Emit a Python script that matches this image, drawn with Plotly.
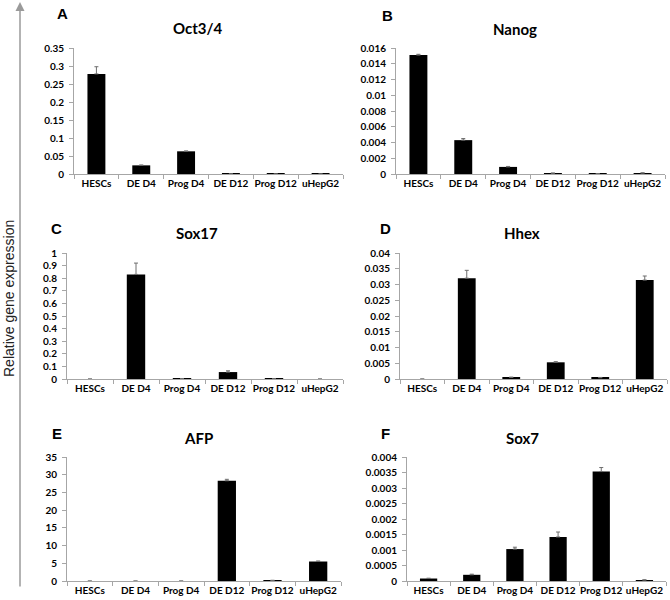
import plotly.graph_objects as go

categories = ["HESCs", "DE D4", "Prog D4", "DE D12", "Prog D12", "uHepG2"]

oct4_vals = [0.278, 0.024, 0.063, 0.0004, 0.0002, 0.0002]
oct4_err = [0.020, 0.001, 0.001, 0.0, 0.0, 0.0]

nanog_vals = [0.0151, 0.0043, 0.0009, 0.0001, 0.00003, 0.00012]
nanog_err = [0.0001, 0.0002, 0.00006, 0.00002, 0.00002, 0.00003]

sox17_vals = [0.0, 0.83, 0.003, 0.055, 0.002, 0.0]
sox17_err = [0.0, 0.09, 0.001, 0.01, 0.001, 0.0]

hhex_vals = [0.0, 0.032, 0.0005, 0.0053, 0.0004, 0.0314]
hhex_err = [0.0, 0.0025, 0.0001, 0.0002, 0.0001, 0.0013]

afp_vals = [0.0, 0.0, 0.0, 28.3, 0.15, 5.5]
afp_err = [0.0, 0.0, 0.0, 0.4, 0.05, 0.15]

sox7_vals = [0.00008, 0.0002, 0.00103, 0.00142, 0.00353, 0.00003]
sox7_err = [0.00001, 0.00002, 0.00006, 0.00016, 0.00013, 0.00001]

panels = [
    ("A", "Oct3/4", oct4_vals, oct4_err, [0, 0.35], 0.05, ["0", "0.05", "0.1", "0.15", "0.2", "0.25", "0.3", "0.35"]),
    ("B", "Nanog", nanog_vals, nanog_err, [0, 0.016], 0.002, ["0", "0.002", "0.004", "0.006", "0.008", "0.01", "0.012", "0.014", "0.016"]),
    ("C", "Sox17", sox17_vals, sox17_err, [0, 1], 0.1, ["0", "0.1", "0.2", "0.3", "0.4", "0.5", "0.6", "0.7", "0.8", "0.9", "1"]),
    ("D", "Hhex", hhex_vals, hhex_err, [0, 0.04], 0.005, ["0", "0.005", "0.01", "0.015", "0.02", "0.025", "0.03", "0.035", "0.04"]),
    ("E", "AFP", afp_vals, afp_err, [0, 35], 5, ["0", "5", "10", "15", "20", "25", "30", "35"]),
    ("F", "Sox7", sox7_vals, sox7_err, [0, 0.004], 0.0005, ["0", "0.0005", "0.001", "0.0015", "0.002", "0.0025", "0.003", "0.0035", "0.004"]),
]

W, H = 670, 600
# pixel boxes: (x_left, x_right, y_top, y_zero), title pos, letter pos
boxes = [
    (74, 343, 48, 174, (198, 28), (62, 14)),
    (396, 665, 48, 174, (515, 29), (387, 15)),
    (67, 343, 253, 379, (197, 233), (56, 228)),
    (400, 667, 253, 379, (522, 233), (385, 228)),
    (67, 341, 457, 581, (198, 438), (57, 433)),
    (407, 666, 457, 581, (522, 438), (385, 433)),
]

def px(x):
    return x / W

def py(y):
    return 1 - y / H

fig = go.Figure()
layout = dict(
    width=W, height=H,
    margin=dict(l=0, r=0, t=0, b=0),
    paper_bgcolor="white", plot_bgcolor="white",
    showlegend=False,
    bargap=0.6,
    annotations=[],
)

tickfont = dict(family="Lato", size=10, color="black", weight="bold")
axis_col = "#a6a6a6"

for i, ((letter, title, vals, errs, rng, dt, ticktext), box) in enumerate(zip(panels, boxes)):
    n = "" if i == 0 else str(i + 1)
    xl, xr, yt, yz, tpos, lpos = box
    fig.add_trace(go.Bar(
        x=categories, y=vals,
        marker=dict(color="black", line=dict(width=0)),
        error_y=dict(type="data", array=errs, arrayminus=[0] * len(errs), symmetric=False,
                     color="#6e6e6e", thickness=1, width=2),
        xaxis="x" + n, yaxis="y" + n,
    ))
    layout["xaxis" + n] = dict(
        domain=[px(xl), px(xr)], anchor="y" + n,
        showline=True, linecolor=axis_col, linewidth=1,
        ticks="outside", tickson="boundaries", ticklen=4, tickcolor=axis_col,
        tickangle=0, automargin=False,
        tickfont=tickfont, showgrid=False, fixedrange=True,
    )
    tickvals = [k * dt for k in range(len(ticktext))]
    layout["yaxis" + n] = dict(
        domain=[py(yz), py(yt)], anchor="x" + n,
        range=rng, showline=True, linecolor=axis_col, linewidth=1,
        ticks="outside", ticklen=4, tickcolor=axis_col,
        tickvals=tickvals, ticktext=ticktext, automargin=False,
        ticklabelstandoff=3,
        tickfont=tickfont, showgrid=False, zeroline=False, fixedrange=True,
    )
    layout["annotations"].append(dict(
        text=title, x=px(tpos[0]), y=py(tpos[1]), xref="paper", yref="paper",
        showarrow=False, xanchor="center", yanchor="middle",
        font=dict(family="Lato", size=15, color="black", weight="bold"),
    ))
    layout["annotations"].append(dict(
        text=letter, x=px(lpos[0]), y=py(lpos[1]), xref="paper", yref="paper",
        showarrow=False, xanchor="center", yanchor="middle",
        font=dict(family="Liberation Sans", size=15, color="black", weight="bold"),
    ))

layout["annotations"].append(dict(
    text="Relative gene expression", x=px(9), y=py(299), xref="paper", yref="paper",
    showarrow=False, textangle=-90, xanchor="center", yanchor="middle",
    font=dict(family="Liberation Sans", size=14, color="#222222"),
))
layout["annotations"].append(dict(
    text="", x=px(20), y=py(2), xref="paper", yref="paper",
    ax=0, ay=586, axref="pixel", ayref="pixel",
    showarrow=True, arrowhead=2, arrowsize=1.2, arrowwidth=1.5, arrowcolor="#9a9a9a",
))

fig.update_layout(**layout)
fig.write_html(
    "out.html",
    config={"displayModeBar": False},
    post_script="document.body.style.margin='0';document.body.style.overflow='hidden';",
)
